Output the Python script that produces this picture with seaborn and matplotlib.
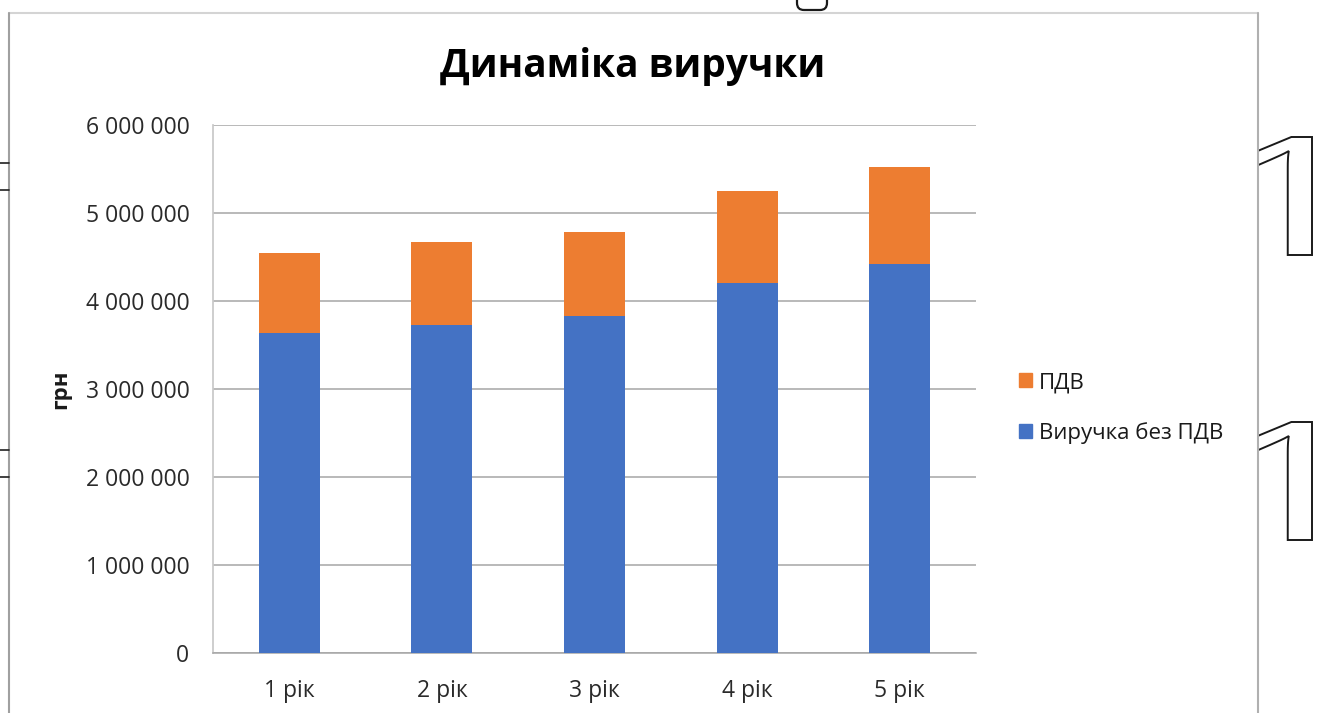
import matplotlib
matplotlib.use("Agg")
import matplotlib.pyplot as plt
from matplotlib.patches import Rectangle, PathPatch, FancyBboxPatch
from matplotlib.textpath import TextPath
from matplotlib.font_manager import FontProperties
from matplotlib.transforms import Affine2D
from matplotlib.ticker import FuncFormatter
import seaborn as sns
import pandas as pd
import numpy as np

# Revenue by year, UAH
years = ["1 рік", "2 рік", "3 рік", "4 рік", "5 рік"]
revenue_net = [3635000, 3725000, 3830000, 4200000, 4415000]
vat = [915000, 940000, 955000, 1052000, 1110000]

BLUE = "#4472C4"
ORANGE = "#ED7D31"
FONT = ["Open Sans", "DejaVu Sans"]

sns.set_theme(style="white")
plt.rcParams["font.family"] = FONT

df = pd.DataFrame({"year": years, "net": revenue_net, "vat": vat})
df["total"] = df["net"] + df["vat"]

fig = plt.figure(figsize=(13.21, 7.13), dpi=100)
ax = fig.add_axes([213 / 1321, 1 - 653 / 713, (976 - 213) / 1321, (653 - 125) / 713])

sns.barplot(data=df, x="year", y="total", color=ORANGE, width=0.4,
            saturation=1, linewidth=0, ax=ax, zorder=3)
sns.barplot(data=df, x="year", y="net", color=BLUE, width=0.4,
            saturation=1, linewidth=0, ax=ax, zorder=4)

ax.set_ylim(0, 6000000)
ax.set_xlim(-0.5, 4.5)
ax.set_yticks(np.arange(0, 6000001, 1000000))
ax.yaxis.set_major_formatter(FuncFormatter(lambda v, p: f"{int(v):,}".replace(",", " ")))
ax.grid(axis="y", color="#a6a6a6", linewidth=1.1, zorder=0)
ax.set_axisbelow(True)
for s in ["top", "right"]:
    ax.spines[s].set_visible(False)
ax.spines["left"].set_color("#c8c8c8")
ax.spines["bottom"].set_color("#a6a6a6")
ax.spines["bottom"].set_linewidth(1.1)
ax.tick_params(axis="both", length=0, labelsize=16.5, colors="#2a2a2a")
ax.tick_params(axis="y", pad=17)
ax.tick_params(axis="x", pad=19)
ax.set_xlabel("")
ax.set_ylabel("грн", fontsize=16, fontweight="bold", color="#1a1a1a")
ax.yaxis.set_label_coords(-0.186, 0.5)

fig.text(633 / 1321, 1 - 66 / 713, "Динаміка виручки", ha="center", va="center",
         fontsize=28, fontweight="bold", color="black")

# Legend
handles = [Rectangle((0, 0), 1, 1, color=ORANGE), Rectangle((0, 0), 1, 1, color=BLUE)]
leg = fig.legend(handles, ["ПДВ", "Виручка без ПДВ"], loc="center left",
                 bbox_to_anchor=(999 / 1321, 1 - 408 / 713), frameon=False,
                 fontsize=16, handlelength=0.6, handleheight=0.6,
                 handletextpad=0.3, labelspacing=1.3)
for t in leg.get_texts():
    t.set_color("#1a1a1a")

# Page frame around the chart
def fline(xs, ys, color, lw):
    fig.add_artist(plt.Line2D([x / 1321 for x in xs], [1 - y / 713 for y in ys],
                              color=color, linewidth=lw, transform=fig.transFigure))

fline([8.5, 1257.5], [13, 13], "#d4d4d4", 1.5)
fline([8.5, 8.5], [13, 713], "#a0a0a0", 1.5)
fline([1257.5, 1257.5], [13, 713], "#b0b0b0", 1.5)
for yy in (163, 190, 450, 477):
    fline([0, 8.5], [yy, yy], "#202020", 1.2)

# Outlined glyphs of the surrounding page
fp = FontProperties(family="Open Sans")
for top in (137, 422):
    tp = TextPath((0, 0), "1", size=150, prop=fp)
    ext = tp.get_extents()
    w, h = 80, 118
    tr = (Affine2D().translate(-ext.x0, -ext.y0)
          .scale(w / ext.width, h / ext.height)
          .translate(1312 - w, 713 - top - h))
    patch = PathPatch(tr.transform_path(tp), facecolor="white", edgecolor="#1a1a1a",
                      linewidth=1.4, transform=None)
    patch.set_clip_path(Rectangle((1259, 0), 80, 713, transform=None))
    fig.add_artist(patch)

top_shape = FancyBboxPatch((797, 713 - 10), 30, 30, boxstyle="round,pad=0,rounding_size=7",
                           facecolor="white", edgecolor="#1a1a1a", linewidth=1.6,
                           transform=None)
fig.add_artist(top_shape)

fig.savefig("out.png", dpi=100)
